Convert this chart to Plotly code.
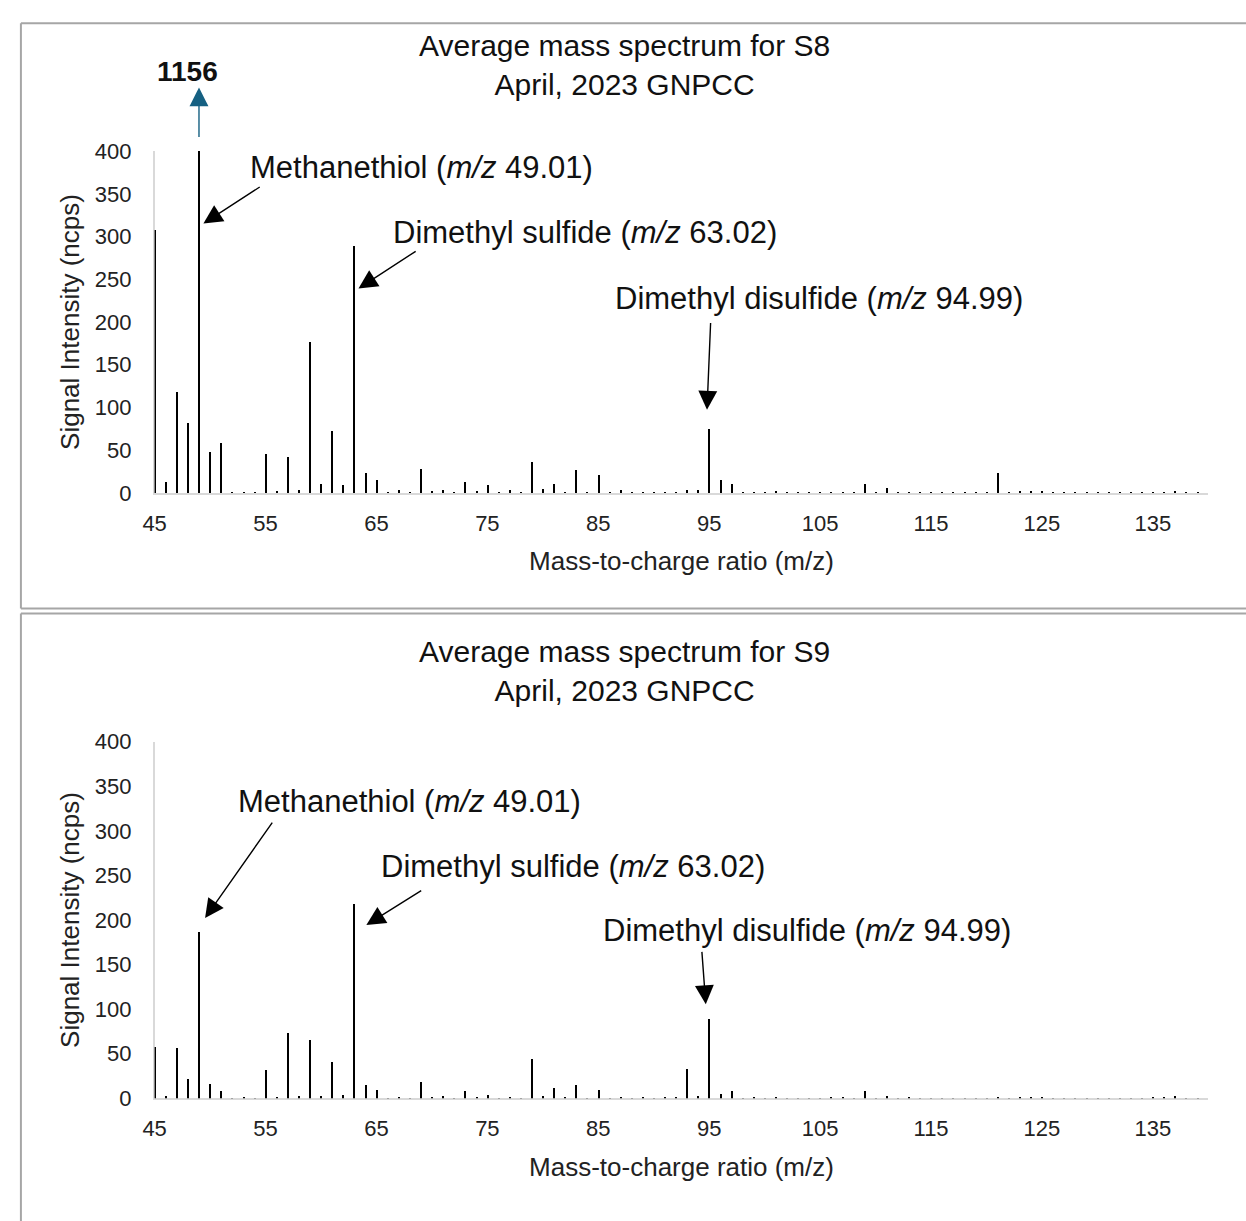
import plotly.graph_objects as go

# ---------------- data ----------------
mz = list(range(45, 140))

s8_intensity = [
    307.5, 12.6, 117.7, 81.4, 1156, 47.8, 58.5, 1.0, 1.0, 0.5,      # 45-54
    45, 2, 42, 3, 177, 10, 72, 9.6, 289, 23,                         # 55-64
    15, 1, 3, 1, 28, 2, 3, 1, 12.6, 2,                               # 65-74
    9.2, 0.5, 3, 1, 36.3, 4, 10.3, 1, 26.4, 1,                       # 75-84
    20.6, 0.3, 3, 1, 1, 0.5, 1, 0.5, 3, 3,                           # 85-94
    74.5, 15.6, 10.3, 1, 1, 0.3, 2, 0.5, 1, 0.5,                     # 95-104
    0.3, 1, 0.5, 0.5, 10.7, 1, 6, 1, 1, 0.5,                         # 105-114
    0.5, 0.3, 0.5, 0.2, 0.5, 0.5, 23.3, 0.5, 2, 1.5,                 # 115-124
    1.5, 0.5, 1, 0.3, 0.5, 0.2, 0.2, 0.2, 0.3, 0.2,                  # 125-134
    0.5, 0.5, 1.5, 0.2, 0.5,                                         # 135-139
]

s9_intensity = [
    57.5, 2.5, 56.8, 21.6, 186.5, 16.1, 8.8, 0.3, 1, 0.3,            # 45-54
    31.9, 1.5, 74, 2.6, 65.6, 2.6, 40.7, 4.4, 218, 15.4,             # 55-64
    9.9, 0.5, 1.5, 0.3, 19, 1, 3.3, 0.5, 8.8, 1,                     # 65-74
    4.4, 0.3, 1.5, 0.5, 44.7, 2.5, 11.7, 1, 15.4, 0.5,               # 75-84
    9.9, 0.3, 1.5, 0.3, 1, 0.3, 1, 1.5, 32.6, 3.3,                   # 85-94
    89.8, 5.5, 8.8, 0.5, 1, 0.3, 1, 0.3, 0.5, 0.3,                   # 95-104
    0.3, 1, 1, 0.3, 8, 0.5, 2.5, 0.5, 1, 0.3,                        # 105-114
    0.5, 0.2, 0.3, 0.2, 0.3, 0.5, 1, 0.3, 1.5, 1,                    # 115-124
    1.5, 0.5, 0.5, 0.2, 0.5, 0.2, 0.3, 0.2, 0.2, 0.2,                # 125-134
    1, 1.5, 2.5, 0.2, 0.5,                                           # 135-139
]

x_ticks = [45, 55, 65, 75, 85, 95, 105, 115, 125, 135]
y_ticks = [0, 50, 100, 150, 200, 250, 300, 350, 400]

titles = ["Average mass spectrum for S8<br>April, 2023 GNPCC",
          "Average mass spectrum for S9<br>April, 2023 GNPCC"]
compound_labels = ["Methanethiol (<i>m/z</i> 49.01)",
                   "Dimethyl sulfide (<i>m/z</i> 63.02)",
                   "Dimethyl disulfide (<i>m/z</i> 94.99)"]
offscale_label = "<b>1156</b>"

# ---------------- figure ----------------
W, H = 1246, 1221


def px(P):   # page x pixel -> paper x
    return P / W


def py(P):   # page y pixel -> paper y
    return 1 - P / H


FONT = "Liberation Sans, Arial, sans-serif"
AXIS_GRAY = "#d9d9d9"
TXT = "#111"

fig = go.Figure()
fig.add_trace(go.Bar(x=mz, y=s8_intensity, width=0.12, marker=dict(color="black", line=dict(width=0)),
                     xaxis="x", yaxis="y", showlegend=False))
fig.add_trace(go.Bar(x=mz, y=s9_intensity, width=0.12, marker=dict(color="black", line=dict(width=0)),
                     xaxis="x2", yaxis="y2", showlegend=False))


def xaxis_cfg(anchor):
    return dict(domain=[px(144), px(1208)], range=[45, 140], anchor=anchor,
                tickmode="array", tickvals=x_ticks, ticks="", showgrid=False, zeroline=False,
                showline=True, linecolor=AXIS_GRAY, linewidth=1.5, layer="below traces",
                tickfont=dict(family=FONT, size=22, color="#222"), ticklabelstandoff=10,
                title=dict(text="Mass-to-charge ratio (m/z)", font=dict(family=FONT, size=26, color="#222"),
                           standoff=17))


def yaxis_cfg(anchor, top, bot):
    return dict(domain=[py(bot), py(top)], range=[0, 400], anchor=anchor,
                tickmode="array", tickvals=y_ticks, ticks="", showgrid=False, zeroline=False,
                showline=True, linecolor=AXIS_GRAY, linewidth=1.5, layer="below traces",
                tickfont=dict(family=FONT, size=22, color="#222"), ticklabelstandoff=17,
                title=dict(text="Signal Intensity (ncps)", font=dict(family=FONT, size=26, color="#222"),
                           standoff=8))


fig.update_layout(
    width=W, height=H, margin=dict(l=0, r=0, t=0, b=0),
    paper_bgcolor="white", plot_bgcolor="white", bargap=0,
    xaxis=xaxis_cfg("y"),
    yaxis=yaxis_cfg("x", 142, 491),
    xaxis2=xaxis_cfg("y2"),
    yaxis2=yaxis_cfg("x2", 745, 1109),
    font=dict(family=FONT, color=TXT),
)

ann = []
for t, ypx in zip(titles, [54, 673]):
    ann.append(dict(text=t, xref="paper", yref="paper", x=px(618), y=py(ypx),
                    xanchor="center", yanchor="middle", showarrow=False,
                    font=dict(family=FONT, size=30, color=TXT)))

label_pos = {
    ("x", "y"): [(53.45, 380.5), (66.3, 304.9), (86.3, 228.1)],
    ("x2", "y2"): [(52.38, 333.0), (65.23, 260.4), (85.23, 187.9)],
}
arrow_pos = {
    ("x", "y"): [((54.61, 359.1), (49.40, 315.2)),
                 ((68.67, 283.9), (63.38, 239.2)),
                 ((95.13, 200.6), (94.80, 97.4))],
    ("x2", "y2"): [((55.7, 311.0), (49.55, 202.2)),
                   ((69.17, 234.0), (64.09, 194.5)),
                   ((94.33, 166.0), (94.69, 105.5))],
}
for key in label_pos:
    xr, yr = key
    for lbl, (lx, ly) in zip(compound_labels, label_pos[key]):
        ann.append(dict(text=lbl, xref=xr, yref=yr, x=lx, y=ly, xanchor="left", yanchor="middle",
                        showarrow=False, font=dict(family=FONT, size=31, color=TXT)))
    for (tx, ty), (hx, hy) in arrow_pos[key]:
        ann.append(dict(text="", xref=xr, yref=yr, x=hx, y=hy, axref=xr, ayref=yr, ax=tx, ay=ty,
                        showarrow=True, arrowhead=2, arrowsize=2.7, arrowwidth=1.4, arrowcolor="black"))

# off-scale marker for m/z 49 in S8
ann.append(dict(text=offscale_label, xref="x", yref="paper", x=47.94, y=py(61), xanchor="center",
                yanchor="middle", showarrow=False, font=dict(family=FONT, size=28, color=TXT)))
ann.append(dict(text="", xref="x", yref="paper", x=49, y=py(77), axref="pixel", ayref="pixel", ax=0, ay=51,
                showarrow=True, arrowhead=2, arrowsize=2.7, arrowwidth=1.4, arrowcolor="#156082"))

fig.update_layout(annotations=ann)

BORDER = "#a6a6a6"
shapes = [
    dict(type="line", xref="paper", yref="paper", x0=px(9), x1=1.02, y0=py(11.5), y1=py(11.5)),
    dict(type="line", xref="paper", yref="paper", x0=px(9), x1=px(9), y0=py(11.5), y1=py(609)),
    dict(type="line", xref="paper", yref="paper", x0=px(9), x1=1.02, y0=py(609), y1=py(609)),
    dict(type="line", xref="paper", yref="paper", x0=px(9), x1=1.02, y0=py(614), y1=py(614)),
    dict(type="line", xref="paper", yref="paper", x0=px(9), x1=px(9), y0=py(614), y1=-0.02),
]
for s in shapes:
    s["line"] = dict(color=BORDER, width=2)
fig.update_layout(shapes=shapes)

fig.write_html("out.html")
